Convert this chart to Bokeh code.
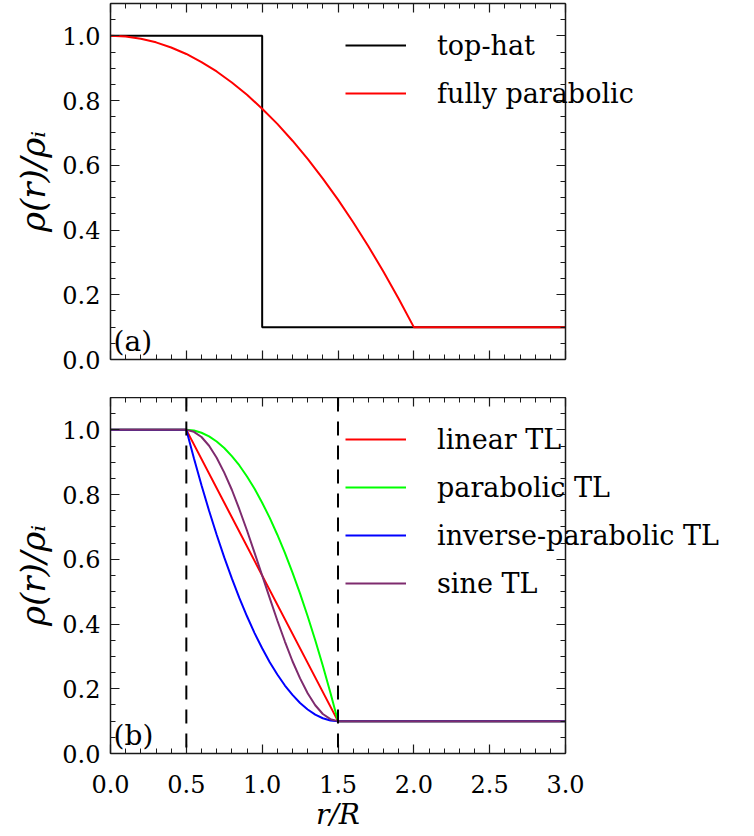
from bokeh.plotting import figure
from bokeh.layouts import column
from bokeh.models import (Range1d, SingleIntervalTicker, PrintfTickFormatter, LinearAxis,
                          Legend, LegendItem, Label, Span, CustomJSTickFormatter, Title)
from bokeh.embed import file_html
from bokeh.resources import INLINE

# ---------------- data: panel (a) ----------------
r_tophat = [0.0, 1.0, 1.0, 3.0]
rho_tophat = [1.0, 1.0, 0.1, 0.1]

r_fullpar = [0.0, 0.1, 0.2, 0.3, 0.4, 0.5, 0.6, 0.7, 0.8, 0.9, 1.0,
             1.1, 1.2, 1.3, 1.4, 1.5, 1.6, 1.7, 1.8, 1.9, 2.0, 3.0]
rho_fullpar = [1.0, 0.998, 0.991, 0.980, 0.964, 0.944, 0.919, 0.890, 0.856, 0.818, 0.775,
               0.728, 0.676, 0.620, 0.559, 0.494, 0.424, 0.350, 0.271, 0.188, 0.100, 0.100]

# ---------------- data: panel (b) ----------------
r_linear = [0.0, 0.5, 1.5, 3.0]
rho_linear = [1.0, 1.0, 0.1, 0.1]

r_tl = [0.0, 0.5, 0.55, 0.6, 0.65, 0.7, 0.75, 0.8, 0.85, 0.9, 0.95, 1.0,
        1.05, 1.1, 1.15, 1.2, 1.25, 1.3, 1.35, 1.4, 1.45, 1.5, 3.0]
rho_parabolic = [1.0, 1.0, 0.998, 0.991, 0.980, 0.964, 0.944, 0.919, 0.890, 0.856, 0.818, 0.775,
                 0.728, 0.676, 0.620, 0.559, 0.494, 0.424, 0.350, 0.271, 0.188, 0.100, 0.100]
rho_invparabolic = [1.0, 1.0, 0.912, 0.829, 0.750, 0.676, 0.606, 0.541, 0.480, 0.424, 0.372, 0.325,
                    0.282, 0.244, 0.210, 0.181, 0.156, 0.136, 0.120, 0.109, 0.102, 0.100, 0.100]
rho_sine = [1.0, 1.0, 0.994, 0.978, 0.951, 0.914, 0.868, 0.815, 0.754, 0.689, 0.620, 0.550,
            0.480, 0.411, 0.346, 0.285, 0.232, 0.186, 0.149, 0.122, 0.106, 0.100, 0.100]

tl_bounds = [0.5, 1.5]

labels_a = ["top-hat", "fully parabolic"]
labels_b = ["linear TL", "parabolic TL", "inverse-parabolic TL", "sine TL"]
panel_tags = ["(a)", "(b)"]
x_title = "r/R"
y_title = "ρ(r)/ρᵢ"

X_MIN, X_MAX = 0.0, 3.0
Y_MIN, Y_MAX = 0.0, 1.1

FONT = "DejaVu Serif"
FRAME = "#1a1a1a"
W = 754
BORDER_L = 110
BORDER_R = 4
AXIS_PX = 455            # pixel length of the drawn x axis (0 .. 3)
FRAME_H = 356
# the drawing area extends right of the boxed axes so the legend text is not clipped
X_VIEW_END = X_MAX * (W - BORDER_L - BORDER_R) / AXIS_PX


def make_panel(height, border_top, border_bottom, show_x):
    p = figure(width=W, height=height, x_range=Range1d(X_MIN, X_VIEW_END),
               y_range=Range1d(Y_MIN, Y_MAX),
               output_backend="svg", toolbar_location=None,
               min_border_left=BORDER_L, min_border_right=BORDER_R,
               min_border_top=border_top, min_border_bottom=border_bottom)
    p.grid.visible = False
    p.outline_line_alpha = 0
    p.background_fill_color = "white"
    p.border_fill_color = "white"
    p.add_layout(LinearAxis(), "above")
    p.add_layout(LinearAxis(fixed_location=X_MAX), "right")
    for ax in p.xaxis:
        ax.ticker = SingleIntervalTicker(interval=0.5, num_minor_ticks=5)
        ax.formatter = PrintfTickFormatter(format="%.1f")
        ax.bounds = (X_MIN, X_MAX)
    for ax in p.yaxis:
        ax.ticker = SingleIntervalTicker(interval=0.2, num_minor_ticks=4)
        ax.formatter = PrintfTickFormatter(format="%.1f")
    for ax in list(p.xaxis) + list(p.yaxis):
        ax.major_tick_in = 9
        ax.major_tick_out = 0
        ax.minor_tick_in = 5
        ax.minor_tick_out = 0
        ax.axis_line_color = FRAME
        ax.axis_line_width = 1.5
        ax.major_tick_line_color = FRAME
        ax.minor_tick_line_color = FRAME
        ax.major_tick_line_width = 1.2
        ax.minor_tick_line_width = 1.0
        ax.major_label_text_font = FONT
        ax.major_label_text_font_size = "24px"
        ax.major_label_text_color = "black"
        ax.axis_label_text_font = FONT
        ax.axis_label_text_color = "black"
    blank = CustomJSTickFormatter(code="return ''")
    hidden = p.above + p.right
    if not show_x:
        hidden = hidden + p.below
    for ax in hidden:
        ax.formatter = blank
        ax.major_label_text_font_size = "1px"
        ax.major_label_standoff = 0
    ax_left = p.left[0]
    ax_left.major_label_standoff = 10
    ax_left.axis_label = y_title
    ax_left.axis_label_text_font_size = "34px"
    ax_left.axis_label_text_font_style = "italic"
    ax_left.axis_label_standoff = 6
    if show_x:
        ax_bottom = p.below[0]
        ax_bottom.major_label_standoff = 21
        # axis title centred under the boxed axis (0 .. 3), not under the whole drawing area
        p.add_layout(Title(text=x_title, align="left", offset=AXIS_PX / 2 - 22, standoff=0,
                           text_font=FONT, text_font_size="28px", text_font_style="italic",
                           text_color="black"), "below")
    return p


def make_legend(items, top_offset):
    n = len(items)
    bottom = FRAME_H - top_offset - 48 * n
    return Legend(items=items, location=(235, bottom), glyph_width=61, glyph_height=48,
                  label_height=48, spacing=0, padding=0, margin=0, label_standoff=31,
                  border_line_alpha=0, background_fill_alpha=0,
                  label_text_font=FONT, label_text_font_size="27px",
                  label_text_color="black")


# ---------------- panel (a) ----------------
p1 = make_panel(397, 3, 38, False)
la1 = p1.line(r_tophat, rho_tophat, line_color="black", line_width=2)
la2 = p1.line(r_fullpar, rho_fullpar, line_color="#ff0000", line_width=2)
p1.add_layout(make_legend([LegendItem(label=labels_a[0], renderers=[la1]),
                           LegendItem(label=labels_a[1], renderers=[la2])], 18))
p1.add_layout(Label(x=0.02, y=0.055, text=panel_tags[0], text_font=FONT, text_font_size="28px",
                    text_baseline="middle", text_align="left", text_color="black"))

# ---------------- panel (b) ----------------
p2 = make_panel(439, 0, 83, True)
lb1 = p2.line(r_linear, rho_linear, line_color="#ff0000", line_width=2)
lb2 = p2.line(r_tl, rho_parabolic, line_color="#00ff00", line_width=2)
lb3 = p2.line(r_tl, rho_invparabolic, line_color="#0000ff", line_width=2)
lb4 = p2.line(r_tl, rho_sine, line_color="#7e2b6e", line_width=2)
for xb in tl_bounds:
    p2.add_layout(Span(location=xb, dimension="height", line_color="black",
                       line_width=2, line_dash="14 10"))
p2.add_layout(make_legend([LegendItem(label=labels_b[0], renderers=[lb1]),
                           LegendItem(label=labels_b[1], renderers=[lb2]),
                           LegendItem(label=labels_b[2], renderers=[lb3]),
                           LegendItem(label=labels_b[3], renderers=[lb4])], 18))
p2.add_layout(Label(x=0.02, y=0.055, text=panel_tags[1], text_font=FONT, text_font_size="28px",
                    text_baseline="middle", text_align="left", text_color="black"))

layout = column(p1, p2, spacing=0)
open("out.html", "w").write(file_html(layout, INLINE))
